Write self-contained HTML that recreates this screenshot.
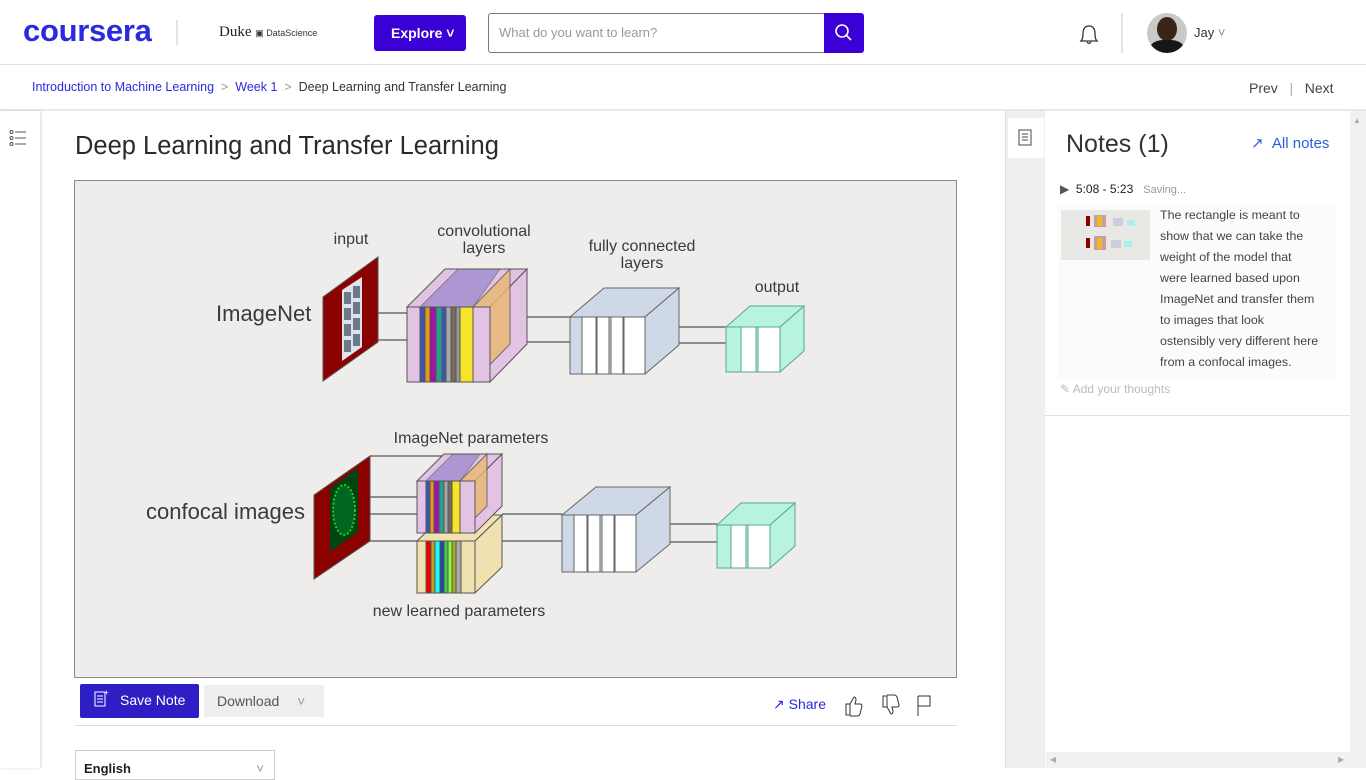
<!DOCTYPE html>
<html><head><meta charset="utf-8"><style>
*{margin:0;padding:0;box-sizing:border-box}
body{width:1366px;height:768px;overflow:hidden;background:#fff;font-family:"Liberation Sans",Arial,sans-serif;position:relative;color:#1f1f1f}
.a{position:absolute;white-space:nowrap}
</style></head><body>
<!-- header -->
<div class="a" style="left:0;top:0;width:1366px;height:65px;border-bottom:1px solid #e1e1e1"></div>
<div class="a" style="left:23px;top:13px;font-size:31px;font-weight:bold;color:#2a2adf;letter-spacing:-0.3px">coursera</div>
<div class="a" style="left:176px;top:20px;width:2px;height:25px;background:#e4e4e4"></div>
<div class="a" style="left:219px;top:24px;font-family:'Liberation Serif',serif;font-size:15px;color:#222">Duke <span style="font-family:'Liberation Sans';font-size:9px;color:#333">&#9635; DataScience</span></div>
<div class="a" style="left:374px;top:15px;width:92px;height:36px;background:#3a00d6;border-radius:3px;color:#fff;font-weight:bold;font-size:14px;line-height:36px;padding-left:17px">Explore &#709;</div>
<div class="a" style="left:488px;top:13px;width:337px;height:40px;border:1px solid #777;border-radius:3px 0 0 3px;font-size:13px;color:#999;line-height:38px;padding-left:10px">What do you want to learn?</div>
<div class="a" style="left:824px;top:13px;width:40px;height:40px;background:#3a00d6;border-radius:0 3px 3px 0"></div>
<svg class="a" style="left:834px;top:23px" width="20" height="20"><circle cx="8" cy="8" r="6" fill="none" stroke="#fff" stroke-width="1.6"/><line x1="12.5" y1="12.5" x2="17" y2="17" stroke="#fff" stroke-width="1.6"/></svg>
<svg class="a" style="left:1076px;top:22px" width="26" height="26"><path d="M5 19 Q7 17 7 12 Q7 4 13 4 Q19 4 19 12 Q19 17 21 19 Z" fill="none" stroke="#333" stroke-width="1.3"/><path d="M11 20 Q13 23 15 20" fill="none" stroke="#333" stroke-width="1.3"/></svg>
<div class="a" style="left:1121px;top:13px;width:2px;height:40px;background:#e4e4e4"></div>
<div class="a" style="left:1147px;top:13px;width:40px;height:40px;border-radius:50%;background:#c9c9c6;overflow:hidden"><div style="position:absolute;left:10px;top:4px;width:20px;height:24px;border-radius:50%;background:#3a2418"></div><div style="position:absolute;left:3px;top:27px;width:34px;height:20px;border-radius:40% 40% 0 0;background:#161616"></div></div>
<div class="a" style="left:1194px;top:25px;font-size:13px;color:#333">Jay <span style="color:#888">&#709;</span></div>
<!-- breadcrumb -->
<div class="a" style="left:32px;top:80px;font-size:12.5px;color:#2a2adf">Introduction to Machine Learning <span style="color:#999">&nbsp;&gt;&nbsp;</span> Week 1 <span style="color:#999">&nbsp;&gt;&nbsp;</span> <span style="color:#333">Deep Learning and Transfer Learning</span></div>
<div class="a" style="left:1249px;top:80px;font-size:14px;color:#444">Prev &nbsp; <span style="color:#aaa">|</span> &nbsp; Next</div>
<div class="a" style="left:0;top:109px;width:1366px;height:2px;background:#e8e8e8"></div>
<!-- left rail -->
<div class="a" style="left:0;top:111px;width:40px;height:657px;background:#fff;box-shadow:1px 0 3px rgba(0,0,0,.15)"></div>
<svg class="a" style="left:9px;top:130px" width="20" height="16"><g fill="none" stroke="#555" stroke-width="1"><circle cx="2.5" cy="2" r="1.5"/><circle cx="2.5" cy="8" r="1.5"/><circle cx="2.5" cy="14" r="1.5"/><line x1="6" y1="2" x2="17" y2="2"/><line x1="6" y1="8" x2="17" y2="8"/><line x1="6" y1="14" x2="17" y2="14"/></g></svg>
<!-- gray strip -->
<div class="a" style="left:1005px;top:111px;width:40px;height:657px;background:#efefef;border-left:1px solid #ddd"></div>
<div class="a" style="left:1008px;top:118px;width:36px;height:40px;background:#fff"></div>
<svg class="a" style="left:1018px;top:129px" width="16" height="18"><rect x="1" y="1" width="12" height="15" fill="none" stroke="#444"/><line x1="4" y1="5" x2="10" y2="5" stroke="#444"/><line x1="4" y1="8" x2="10" y2="8" stroke="#444"/><line x1="4" y1="11" x2="10" y2="11" stroke="#444"/></svg>
<!-- title -->
<div class="a" style="left:75px;top:132px;font-size:25.5px;color:#2a2a2a">Deep Learning and Transfer Learning</div>
<!-- video -->
<div class="a" style="left:74px;top:180px;width:883px;height:498px;background:#eeedeb;border:1px solid #8a8a8a"></div>
<svg class="a" style="left:0;top:0" width="1366" height="768" font-family="Liberation Sans, sans-serif" fill="#333">
<g font-size="16" fill="#3a3a3a" text-anchor="middle">
<text x="351" y="244">input</text>
<text x="484" y="236">convolutional</text><text x="484" y="253">layers</text>
<text x="642" y="251">fully connected</text><text x="642" y="268">layers</text>
<text x="777" y="292">output</text>
<text x="471" y="443">ImageNet parameters</text>
<text x="459" y="616">new learned parameters</text>
</g>
<text x="216" y="321" font-size="22" fill="#3a3a3a">ImageNet</text>
<text x="146" y="519" font-size="22" fill="#3a3a3a">confocal images</text>
<g stroke="#555" stroke-width="1.2" fill="none">
<line x1="378" y1="313" x2="407" y2="313"/><line x1="360" y1="340" x2="407" y2="340"/>
<line x1="527" y1="317" x2="570" y2="317"/><line x1="490" y1="342" x2="570" y2="342"/>
<line x1="679" y1="327" x2="726" y2="327"/><line x1="645" y1="343" x2="726" y2="343"/>
<line x1="370" y1="456" x2="445" y2="456"/><line x1="360" y1="497" x2="417" y2="497"/><line x1="360" y1="514" x2="417" y2="514"/><line x1="340" y1="541" x2="417" y2="541"/>
<line x1="502" y1="514" x2="562" y2="514"/><line x1="475" y1="541" x2="562" y2="541"/>
<line x1="670" y1="524" x2="717" y2="524"/><line x1="636" y1="542" x2="717" y2="542"/>
</g>
<!-- input panels -->
<polygon points="323,297 378,257 378,342 323,381" fill="#8b0000" stroke="#555"/>
<polygon points="342,290 362,277 362,347 342,361" fill="#dfe3ea"/>
<g fill="#6a7a8a"><rect x="344" y="292" width="7" height="12"/><rect x="353" y="286" width="7" height="12"/><rect x="344" y="308" width="7" height="12"/><rect x="353" y="302" width="7" height="12"/><rect x="344" y="324" width="7" height="12"/><rect x="353" y="318" width="7" height="12"/><rect x="344" y="340" width="7" height="12"/><rect x="353" y="334" width="7" height="12"/></g>
<polygon points="314,495 370,456 370,541 314,579" fill="#8b0000" stroke="#555"/>
<polygon points="330,488 358,468 358,532 330,552" fill="#041" />
<ellipse cx="344" cy="510" rx="11" ry="25" fill="#062" stroke="#2c2" stroke-width="2" stroke-dasharray="2 2"/>
<!-- conv top -->
<g stroke="#555" stroke-width="1">
<polygon points="407,307 445,269 527,269 490,307" fill="#e3c3e3"/>
<polygon points="490,307 527,269 527,344 490,382" fill="#e3c3e3"/>
<polygon points="473,307 510,269 510,344 473,382" fill="#e8b870" opacity=".8"/>
<rect x="407" y="307" width="83" height="75" fill="#e3c3e3"/>
<rect x="420" y="307" width="5" height="75" fill="#3b55b8"/><rect x="425" y="307" width="5" height="75" fill="#e89a10"/><rect x="430" y="307" width="6" height="75" fill="#a012a8"/><rect x="436" y="307" width="6" height="75" fill="#2a9d8f"/><rect x="442" y="307" width="4" height="75" fill="#3b55b8"/><rect x="446" y="307" width="5" height="75" fill="#aaa"/><rect x="451" y="307" width="5" height="75" fill="#7a6a5a"/><rect x="456" y="307" width="4" height="75" fill="#999"/><rect x="460" y="307" width="13" height="75" fill="#f5e42a"/>
<polygon points="420,307 458,269 500,269 473,307" fill="#8a7ac8" opacity=".6"/>
</g>
<!-- fc top -->
<g stroke="#666" stroke-width="1">
<polygon points="570,317 604,288 679,288 645,317" fill="#cfd8e6"/>
<polygon points="645,317 679,288 679,345 645,374" fill="#cfd8e6"/>
<rect x="570" y="317" width="75" height="57" fill="#cfd8e6"/>
<rect x="582" y="317" width="14" height="57" fill="#fff"/><rect x="597" y="317" width="12" height="57" fill="#fff"/><rect x="611" y="317" width="12" height="57" fill="#fff"/><rect x="624" y="317" width="21" height="57" fill="#fff"/>
</g>
<!-- out top -->
<g stroke="#5a8" stroke-width="1">
<polygon points="726,327 750,306 804,306 780,327" fill="#b8f3df"/>
<polygon points="780,327 804,306 804,351 780,372" fill="#b8f3df"/>
<rect x="726" y="327" width="54" height="45" fill="#b8f3df"/>
<rect x="741" y="327" width="15" height="45" fill="#fff"/><rect x="758" y="327" width="22" height="45" fill="#fff"/>
</g>
<!-- bottom convs -->
<g stroke="#555" stroke-width="1">
<polygon points="417,541 444,515 502,515 475,541" fill="#efe2b0"/>
<polygon points="475,541 502,515 502,567 475,593" fill="#efe2b0"/>
<rect x="417" y="541" width="58" height="52" fill="#efe2b0"/>
<rect x="426" y="541" width="5" height="52" fill="#e00"/><rect x="431" y="541" width="4" height="52" fill="#c0a020"/><rect x="435" y="541" width="5" height="52" fill="#1ff"/><rect x="440" y="541" width="4" height="52" fill="#24a"/><rect x="444" y="541" width="4" height="52" fill="#4c4"/><rect x="448" y="541" width="4" height="52" fill="#8f4"/><rect x="452" y="541" width="4" height="52" fill="#aa2"/><rect x="456" y="541" width="5" height="52" fill="#aaa"/>
<polygon points="417,481 444,454 502,454 475,481" fill="#e3c3e3"/>
<polygon points="475,481 502,454 502,506 475,533" fill="#e3c3e3"/>
<polygon points="460,481 487,454 487,506 460,533" fill="#e8b870" opacity=".8"/>
<rect x="417" y="481" width="58" height="52" fill="#e3c3e3"/>
<rect x="426" y="481" width="4" height="52" fill="#3b55b8"/><rect x="430" y="481" width="4" height="52" fill="#e89a10"/><rect x="434" y="481" width="5" height="52" fill="#a012a8"/><rect x="439" y="481" width="5" height="52" fill="#2a9d8f"/><rect x="444" y="481" width="4" height="52" fill="#aaa"/><rect x="448" y="481" width="4" height="52" fill="#7a6a5a"/><rect x="452" y="481" width="8" height="52" fill="#f5e42a"/>
<polygon points="426,481 453,454 480,454 460,481" fill="#8a7ac8" opacity=".6"/>
</g>
<g stroke="#666" stroke-width="1">
<polygon points="562,515 596,487 670,487 636,515" fill="#cfd8e6"/>
<polygon points="636,515 670,487 670,544 636,572" fill="#cfd8e6"/>
<rect x="562" y="515" width="74" height="57" fill="#cfd8e6"/>
<rect x="574" y="515" width="13" height="57" fill="#fff"/><rect x="588" y="515" width="12" height="57" fill="#fff"/><rect x="602" y="515" width="12" height="57" fill="#fff"/><rect x="615" y="515" width="21" height="57" fill="#fff"/>
</g>
<g stroke="#5a8" stroke-width="1">
<polygon points="717,525 741,503 795,503 770,525" fill="#b8f3df"/>
<polygon points="770,525 795,503 795,546 770,568" fill="#b8f3df"/>
<rect x="717" y="525" width="53" height="43" fill="#b8f3df"/>
<rect x="731" y="525" width="15" height="43" fill="#fff"/><rect x="748" y="525" width="22" height="43" fill="#fff"/>
</g>
</svg>
<!-- action bar -->
<div class="a" style="left:80px;top:684px;width:119px;height:34px;background:#2d1fc4;border-radius:2px;color:#fff;font-size:14px;line-height:32px;padding-left:40px">Save Note</div>
<svg class="a" style="left:94px;top:689px" width="16" height="20"><rect x="1" y="3" width="10" height="14" fill="none" stroke="#fff"/><line x1="3" y1="7" x2="9" y2="7" stroke="#fff"/><line x1="3" y1="10" x2="9" y2="10" stroke="#fff"/><line x1="3" y1="13" x2="9" y2="13" stroke="#fff"/><text x="10" y="6" fill="#fff" font-size="8">+</text></svg>
<div class="a" style="left:204px;top:685px;width:120px;height:32px;background:#eee;border-radius:2px;color:#555;font-size:14px;line-height:32px;padding-left:13px">Download <span style="color:#999;margin-left:14px">&#709;</span></div>
<div class="a" style="left:773px;top:696px;font-size:14px;color:#2a2adf">&#8599; Share</div>
<svg class="a" style="left:843px;top:694px" width="90" height="24"><path d="M3 10 h4 v11 h-4z M7 10 l4 -7 q2 0 2 3 l-1 4 h5 q2 0 2 2 l-2 8 q-1 2 -3 2 h-7" fill="#fff" stroke="#333"/><path d="M40 13 h4 v-11 h-4z M44 13 l4 7 q2 0 2 -3 l-1 -4 h5 q2 0 2 -2 l-2 -8 q-1 -2 -3 -2 h-7" fill="#fff" stroke="#333"/><path d="M75 2 v20 M75 2 h12 v10 h-12" fill="none" stroke="#333"/></svg>
<div class="a" style="left:75px;top:725px;width:882px;height:1px;background:#ddd"></div>
<div class="a" style="left:75px;top:750px;width:200px;height:30px;border:1px solid #ccc;font-size:13px;font-weight:bold;padding:10px 0 0 8px">English<span style="position:absolute;right:10px;color:#999;font-weight:normal">&#709;</span></div>
<!-- notes -->
<div class="a" style="left:1066px;top:130px;font-size:25px;color:#333">Notes (1)</div>
<div class="a" style="left:1251px;top:134px;font-size:15px;color:#2a5ed8">&#8599;&#xFE0E; &nbsp;All notes</div>
<div class="a" style="left:1058px;top:205px;width:277px;height:175px;background:#fafbfc"></div>
<div class="a" style="left:1060px;top:182px;font-size:12px;color:#222"><span style="color:#555">&#9654;</span>&nbsp; 5:08 - 5:23 &nbsp; <span style="color:#999;font-size:11px">Saving...</span></div>
<div class="a" style="left:1061px;top:210px;width:89px;height:50px;background:#e8e9e4"></div>
<svg class="a" style="left:1061px;top:210px" width="89" height="50"><rect x="25" y="6" width="4" height="10" fill="#8b0000"/><rect x="33" y="5" width="12" height="12" fill="#c9a"/><rect x="36" y="6" width="5" height="10" fill="#e5c020"/><rect x="52" y="8" width="10" height="8" fill="#ccd" /><rect x="66" y="10" width="8" height="6" fill="#aee"/><rect x="25" y="28" width="4" height="10" fill="#8b0000"/><rect x="33" y="26" width="12" height="14" fill="#c9a"/><rect x="36" y="28" width="5" height="11" fill="#e5c020"/><rect x="50" y="30" width="10" height="8" fill="#ccd"/><rect x="63" y="31" width="8" height="6" fill="#aee"/></svg>
<div class="a" style="left:1160px;top:205px;font-size:12.4px;color:#444;line-height:21px">The rectangle is meant to<br>show that we can take the<br>weight of the model that<br>were learned based upon<br>ImageNet and transfer them<br>to images that look<br>ostensibly very different here<br>from a confocal images.</div>
<div class="a" style="left:1060px;top:382px;font-size:12px;color:#bbb">&#9998; Add your thoughts</div>
<div class="a" style="left:1045px;top:415px;width:305px;height:1px;background:#e2e2e2"></div>
<div class="a" style="left:1350px;top:111px;width:16px;height:657px;background:#f1f1f1"></div>
<div class="a" style="left:1353px;top:116px;font-size:8px;color:#aaa">&#9650;</div>
<div class="a" style="left:1046px;top:752px;width:304px;height:16px;background:#f1f1f1"></div>
<div class="a" style="left:1050px;top:755px;font-size:8px;color:#aaa">&#9664;</div>
<div class="a" style="left:1338px;top:755px;font-size:8px;color:#aaa">&#9654;</div>
</body></html>
